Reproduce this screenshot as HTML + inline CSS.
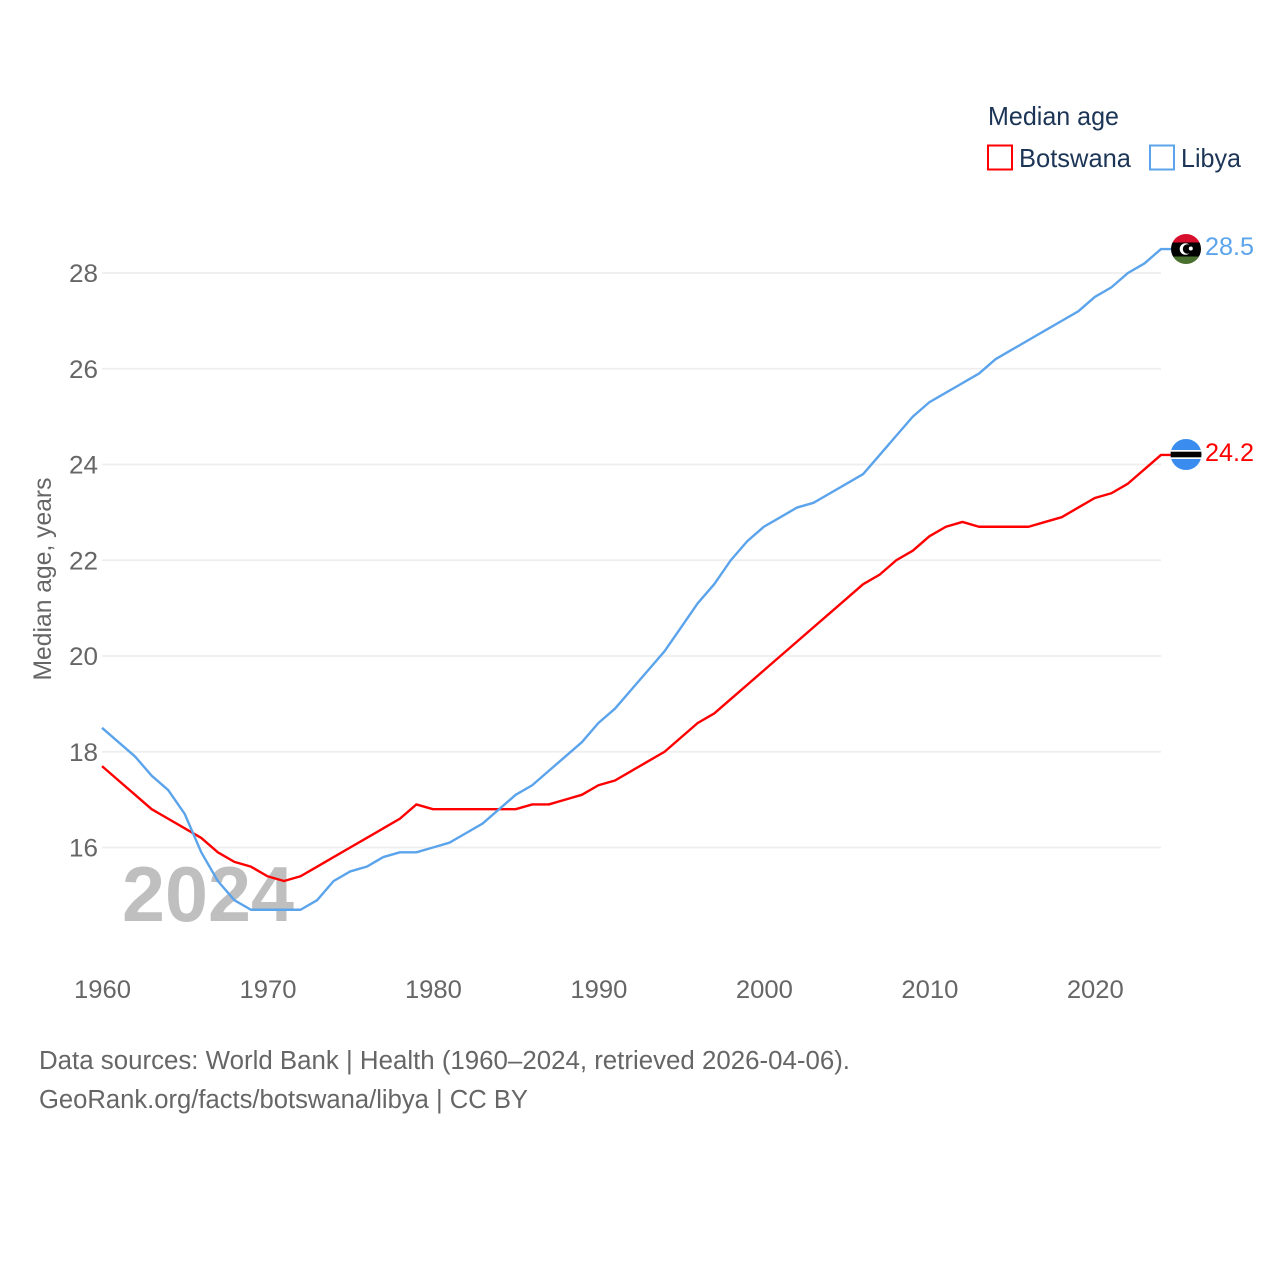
<!DOCTYPE html>
<html lang="en">
<head>
<meta charset="utf-8">
<title>Median age: Botswana and Libya</title>
<style>
html,body{margin:0;padding:0;background:#fff;}
svg{display:block;font-family:"Liberation Sans",sans-serif;}
</style>
</head>
<body>
<svg id="chart" xmlns="http://www.w3.org/2000/svg" width="1280" height="1280" viewBox="0 0 1280 1280">
  <defs>
    <clipPath id="clip-libya"><circle cx="1186" cy="249" r="15"/></clipPath>
    <clipPath id="clip-botswana"><circle cx="1186" cy="454.5" r="15.5"/></clipPath>
  </defs>
  <rect x="0" y="0" width="1280" height="1280" fill="#fff"/>
  <g id="grid"></g>
  <g id="yticks"></g>
  <g id="xticks"></g>
  <text transform="translate(51,579) rotate(-90)" text-anchor="middle" font-size="25" fill="#666" textLength="203" lengthAdjust="spacingAndGlyphs">Median age, years</text>
  <text x="122" y="921" font-size="78" font-weight="700" fill="#bfbfbf" textLength="172" lengthAdjust="spacingAndGlyphs">2024</text>
  <g id="series"></g>

  <g clip-path="url(#clip-libya)">
    <rect x="1170" y="233" width="32" height="10" fill="#d80f2c"/>
    <rect x="1170" y="242.5" width="32" height="14" fill="#000"/>
    <rect x="1170" y="256.5" width="32" height="9" fill="#4a7030"/>
    <circle cx="1185.5" cy="249" r="5.8" fill="#fff"/>
    <circle cx="1187.5" cy="249" r="4.7" fill="#000"/>
    <circle cx="1190.8" cy="248.5" r="2" fill="#fff"/>
  </g>
  <g clip-path="url(#clip-botswana)">
    <rect x="1170" y="438" width="32" height="33" fill="#3a8dee"/>
    <rect x="1170" y="450" width="32" height="9" fill="#fff"/>
    <rect x="1170" y="451.7" width="32" height="5.6" fill="#000"/>
  </g>

  <text id="label-libya" x="1205" y="255" font-size="25" fill="#5ba4ec" textLength="49" lengthAdjust="spacingAndGlyphs"></text>
  <text id="label-botswana" x="1205" y="461" font-size="25" fill="#ff0000" textLength="49" lengthAdjust="spacingAndGlyphs"></text>

  <g>
    <text x="988" y="125" font-size="26" fill="#1c3557" textLength="131" lengthAdjust="spacingAndGlyphs">Median age</text>
    <g>
      <rect x="988" y="145.5" width="24" height="24" fill="#fff" stroke="#ff0000" stroke-width="2"/>
      <text x="1019" y="167" font-size="26" fill="#1c3557" textLength="112" lengthAdjust="spacingAndGlyphs">Botswana</text>
    </g>
    <g>
      <rect x="1150" y="145.5" width="24" height="24" fill="#fff" stroke="#5ba4ec" stroke-width="2"/>
      <text x="1181" y="167" font-size="26" fill="#1c3557" textLength="60" lengthAdjust="spacingAndGlyphs">Libya</text>
    </g>
  </g>

  <text x="39" y="1069" font-size="25.5" fill="#666" textLength="811" lengthAdjust="spacingAndGlyphs">Data sources: World Bank | Health (1960–2024, retrieved 2026-04-06).</text>
  <text x="39" y="1108" font-size="25.5" fill="#666" textLength="489" lengthAdjust="spacingAndGlyphs">GeoRank.org/facts/botswana/libya | CC BY</text>
</svg>
<script>
const years = [1960,1961,1962,1963,1964,1965,1966,1967,1968,1969,1970,1971,1972,1973,1974,1975,1976,1977,1978,1979,1980,1981,1982,1983,1984,1985,1986,1987,1988,1989,1990,1991,1992,1993,1994,1995,1996,1997,1998,1999,2000,2001,2002,2003,2004,2005,2006,2007,2008,2009,2010,2011,2012,2013,2014,2015,2016,2017,2018,2019,2020,2021,2022,2023,2024];
const botswana = [17.7,17.4,17.1,16.8,16.6,16.4,16.2,15.9,15.7,15.6,15.4,15.3,15.4,15.6,15.8,16.0,16.2,16.4,16.6,16.9,16.8,16.8,16.8,16.8,16.8,16.8,16.9,16.9,17.0,17.1,17.3,17.4,17.6,17.8,18.0,18.3,18.6,18.8,19.1,19.4,19.7,20.0,20.3,20.6,20.9,21.2,21.5,21.7,22.0,22.2,22.5,22.7,22.8,22.7,22.7,22.7,22.7,22.8,22.9,23.1,23.3,23.4,23.6,23.9,24.2];
const libya = [18.5,18.2,17.9,17.5,17.2,16.7,15.9,15.3,14.9,14.7,14.7,14.7,14.7,14.9,15.3,15.5,15.6,15.8,15.9,15.9,16.0,16.1,16.3,16.5,16.8,17.1,17.3,17.6,17.9,18.2,18.6,18.9,19.3,19.7,20.1,20.6,21.1,21.5,22.0,22.4,22.7,22.9,23.1,23.2,23.4,23.6,23.8,24.2,24.6,25.0,25.3,25.5,25.7,25.9,26.2,26.4,26.6,26.8,27.0,27.2,27.5,27.7,28.0,28.2,28.5];
const yTicks = [16,18,20,22,24,26,28];
const xTicks = [1960,1970,1980,1990,2000,2010,2020];

const NS = 'http://www.w3.org/2000/svg';
function xScale(year) { return 102 + (year - 1960) * (1161 - 102) / (2024 - 1960); }
function yScale(age) { return 847.5 - (age - 16) * (847.5 - 273) / (28 - 16); }

const gridGroup = document.getElementById('grid');
const yTickGroup = document.getElementById('yticks');
const xTickGroup = document.getElementById('xticks');
const seriesGroup = document.getElementById('series');

yTicks.forEach(function (tick) {
  const line = document.createElementNS(NS, 'line');
  
  
  line.setAttribute('x1', xScale(1960));
  line.setAttribute('x2', xScale(2024));
  line.setAttribute('y1', yScale(tick));
  line.setAttribute('y2', yScale(tick));
  line.setAttribute('stroke', '#eeeeee');
  line.setAttribute('stroke-width', '1.7');
  gridGroup.appendChild(line);

  const label = document.createElementNS(NS, 'text');
  
  
  label.setAttribute('x', 69);
  label.setAttribute('y', yScale(tick) + 9);
  label.setAttribute('font-size', '25');
  label.setAttribute('fill', '#666');
  label.setAttribute('textLength', '29');
  label.setAttribute('lengthAdjust', 'spacingAndGlyphs');
  label.textContent = tick;
  yTickGroup.appendChild(label);
});

xTicks.forEach(function (tick) {
  const label = document.createElementNS(NS, 'text');
  
  
  label.setAttribute('x', xScale(tick) - 28);
  label.setAttribute('y', 998);
  label.setAttribute('font-size', '25');
  label.setAttribute('fill', '#666');
  label.setAttribute('textLength', '57');
  label.setAttribute('lengthAdjust', 'spacingAndGlyphs');
  label.textContent = tick;
  xTickGroup.appendChild(label);
});

function pathFor(values) {
  const points = values.map(function (v, i) {
    return (i === 0 ? 'M' : 'L') + xScale(years[i]).toFixed(2) + ' ' + yScale(v).toFixed(2);
  }).join(' ');
  return points + ' H' + (xScale(years[years.length - 1]) + 10).toFixed(2);
}

const botswanaLine = document.createElementNS(NS, 'path');


botswanaLine.setAttribute('d', pathFor(botswana));
botswanaLine.setAttribute('fill', 'none');
botswanaLine.setAttribute('stroke', '#ff0000');
botswanaLine.setAttribute('stroke-width', '2.4');
botswanaLine.setAttribute('stroke-linejoin', 'round');
seriesGroup.appendChild(botswanaLine);

const libyaLine = document.createElementNS(NS, 'path');


libyaLine.setAttribute('d', pathFor(libya));
libyaLine.setAttribute('fill', 'none');
libyaLine.setAttribute('stroke', '#5ba4ec');
libyaLine.setAttribute('stroke-width', '2.4');
libyaLine.setAttribute('stroke-linejoin', 'round');
seriesGroup.appendChild(libyaLine);

document.getElementById('label-libya').textContent = libya[libya.length - 1].toFixed(1);
document.getElementById('label-botswana').textContent = botswana[botswana.length - 1].toFixed(1);
</script>
</body>
</html>
